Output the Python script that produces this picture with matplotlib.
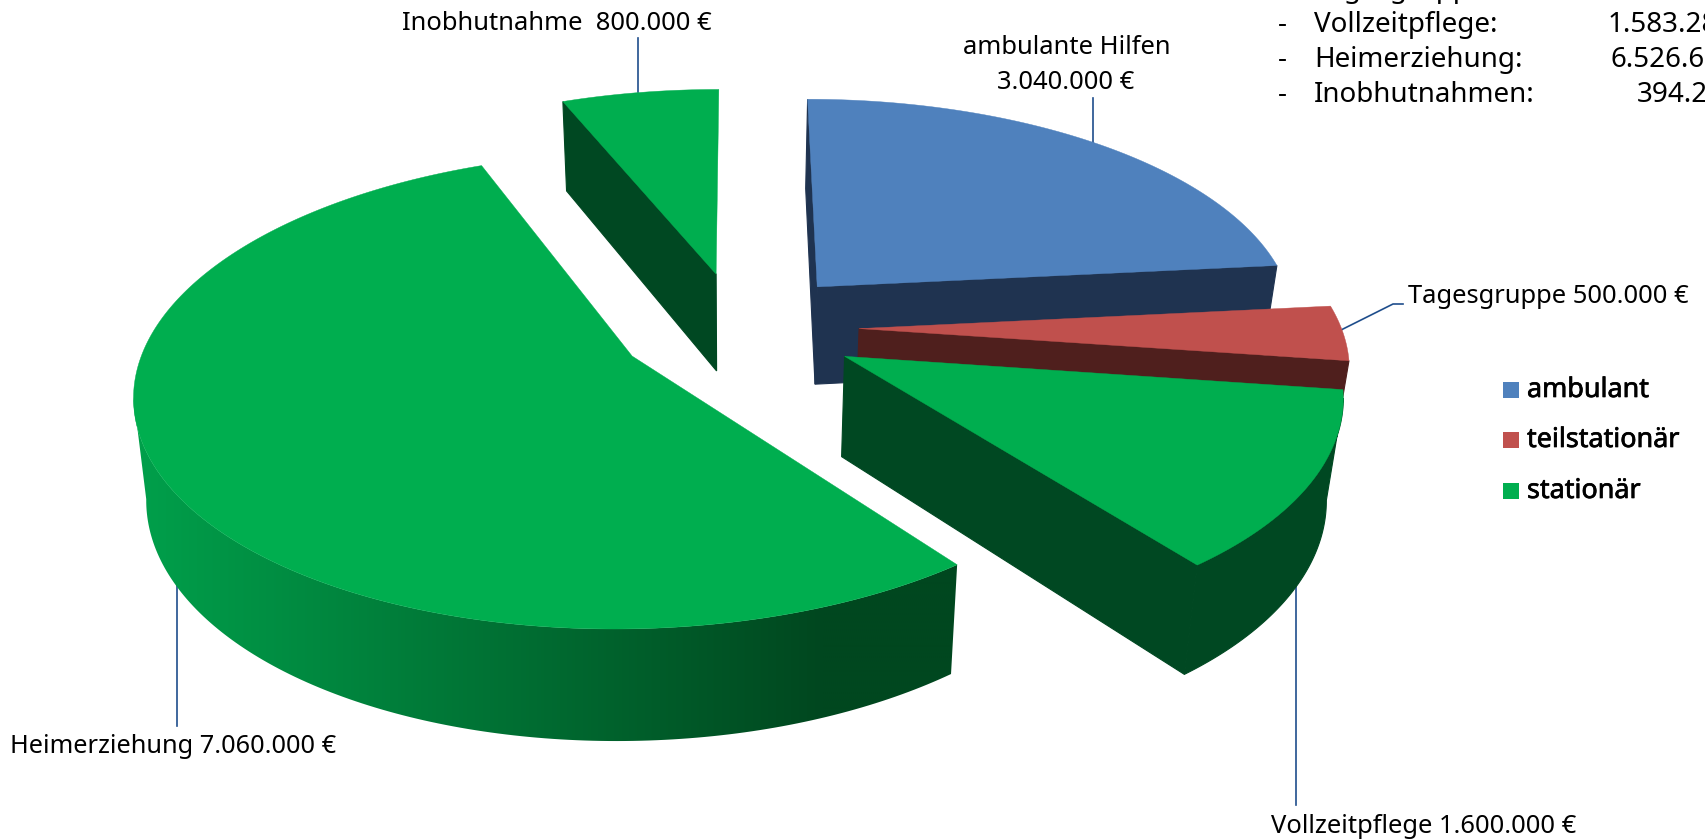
import numpy as np
import matplotlib
matplotlib.use('Agg')
import matplotlib.pyplot as plt
import matplotlib.patheffects as pe
from matplotlib.patches import Polygon

# Werte (clockwise, start at 12 o'clock)
names = ['ambulante Hilfen', 'Tagesgruppe', 'Vollzeitpflege', 'Heimerziehung', 'Inobhutnahme']
values = [3040000, 500000, 1600000, 7060000, 800000]
groups = ['ambulant', 'teilstationär', 'stationär', 'stationär', 'stationär']

legend_names = ['ambulant', 'teilstationär', 'stationär']
top_colors = {'ambulant': '#4F81BD', 'teilstationär': '#C0504D', 'stationär': '#00AE4F'}
side_colors = {'ambulant': '#1F3350', 'teilstationär': '#4F1F1D', 'stationär': '#004822'}

list_names = ['Tagesgruppe:', 'Vollzeitpflege:', 'Heimerziehung:', 'Inobhutnahmen:']
list_values = ['', '1.583.28', '6.526.61', '394.2']

plt.rcParams['font.family'] = ['Noto Sans', 'DejaVu Sans']
LINE = '#1F4E8C'
FS = 18.4

# perspective of the ground plane, fitted on the picture
VX, VY, A, B, K = 738.5, 355, 490.5, 233, 0.145
CY, EXPLODE = -0.12, 0.25


def project(x, y):
    w = 1 - K * y
    return VX + A * x / w, VY + B * y / w


def drop(sx, sy):
    # lower edge of the pie for a point of the top face
    lean = np.where(sx < VX, 0.021, 0.028)
    return sx - lean * (sx - VX), sy + 85 + 0.043 * sy


def draw_slice(ax, a0, a1, group, z, gradient=False):
    mid = (a0 + a1) / 2
    cx, cy = EXPLODE * np.sin(mid), CY - EXPLODE * np.cos(mid)
    t = np.linspace(a0, a1, 240)
    apex_x, apex_y = project(cx, cy)
    sx, sy = project(cx + np.sin(t), cy - np.cos(t))
    bx, by = drop(sx, sy)
    apex_bx, apex_by = drop(apex_x, apex_y)
    side = side_colors[group]

    # radial faces, only those turned to the viewer
    if -np.sin(a0) > -1e-6:
        ax.fill([apex_x, sx[0], bx[0], apex_bx], [apex_y, sy[0], by[0], apex_by],
                color=side, lw=0.8, zorder=z)
    if np.sin(a1) > 1e-6:
        ax.fill([apex_x, sx[-1], bx[-1], apex_bx], [apex_y, sy[-1], by[-1], apex_by],
                color=side, lw=0.8, zorder=z)

    # outer wall, only the part between the silhouette edges
    i0, i1 = np.argmax(sx), np.argmin(sx)
    if i1 > i0:
        wall_x = np.r_[sx[i0:i1 + 1], bx[i0:i1 + 1][::-1]]
        wall_y = np.r_[sy[i0:i1 + 1], by[i0:i1 + 1][::-1]]
        if gradient:
            xs = np.linspace(100, 1000, 450)
            f = np.clip((823 - xs) / (823 - 134), 0, 1)[None, :, None]
            dark = np.array([0, 71, 31]) / 255
            bright = np.array([0, 160, 75]) / 255
            img = dark + (bright - dark) * f
            im = ax.imshow(img, extent=(100, 1000, 800, 300), aspect='auto',
                           interpolation='bilinear', zorder=z)
            im.set_clip_path(Polygon(np.c_[wall_x, wall_y], transform=ax.transData))
        else:
            ax.fill(wall_x, wall_y, color=side, lw=0.8, zorder=z)

    # top
    ax.fill(np.r_[apex_x, sx], np.r_[apex_y, sy], color=top_colors[group], lw=0.3, zorder=z)


fig = plt.figure(figsize=(17.06, 8.39), dpi=100)
ax = fig.add_axes([0, 0, 1, 1])

# Leader lines (under the pie)
ax.plot([638, 638], [38, 92], color=LINE, lw=1.2, zorder=1)
ax.plot([1093, 1093], [98, 145], color=LINE, lw=1.2, zorder=1)
ax.plot([1341, 1393, 1403], [330, 304, 304], color=LINE, lw=1.2, zorder=1)
ax.plot([177, 177], [575, 726], color=LINE, lw=1.2, zorder=1)
ax.plot([1296, 1296], [585, 805], color=LINE, lw=1.2, zorder=1)

edges = np.r_[0, np.cumsum(values)] / np.sum(values) * 2 * np.pi
# back to front
for z, i in enumerate([4, 0, 1, 2, 3]):
    draw_slice(ax, edges[i], edges[i + 1], groups[i], z + 2, gradient=(names[i] == 'Heimerziehung'))

ax.set_xlim(0, 1706)
ax.set_ylim(839, 0)
ax.axis('off')

# Labels
ax.text(402, 30, 'Inobhutnahme  800.000 €', fontsize=FS, va='baseline')
ax.text(1067, 54, 'ambulante Hilfen', fontsize=FS, ha='center', va='baseline')
ax.text(1066, 89, '3.040.000 €', fontsize=FS, ha='center', va='baseline')
ax.text(1408, 303, 'Tagesgruppe 500.000 €', fontsize=FS, va='baseline')
ax.text(10, 753, 'Heimerziehung 7.060.000 €', fontsize=18.2, va='baseline')
ax.text(1271, 833, 'Vollzeitpflege 1.600.000 €', fontsize=FS, va='baseline')

# Legend
for name, y in zip(legend_names, [382, 432, 483]):
    ax.fill([1503, 1519, 1519, 1503], [y, y, y + 16, y + 16], color=top_colors[name], lw=0)
    ax.text(1527, y + 15, name, fontsize=19.4, va='baseline',
            path_effects=[pe.withStroke(linewidth=0.5, foreground='black')])

# cut off list at the top right
for i, (name, val) in enumerate(zip(list_names, list_values)):
    y = -3 + 35 * i
    ax.text(1278, y, '-', fontsize=20, va='baseline')
    ax.text(1314, y, name, fontsize=20, va='baseline')
    if val:
        ax.text({1: 1608, 2: 1611, 3: 1637}[i], y, val, fontsize=20, va='baseline')

plt.savefig('out.png', dpi=100)
plt.close(fig)
